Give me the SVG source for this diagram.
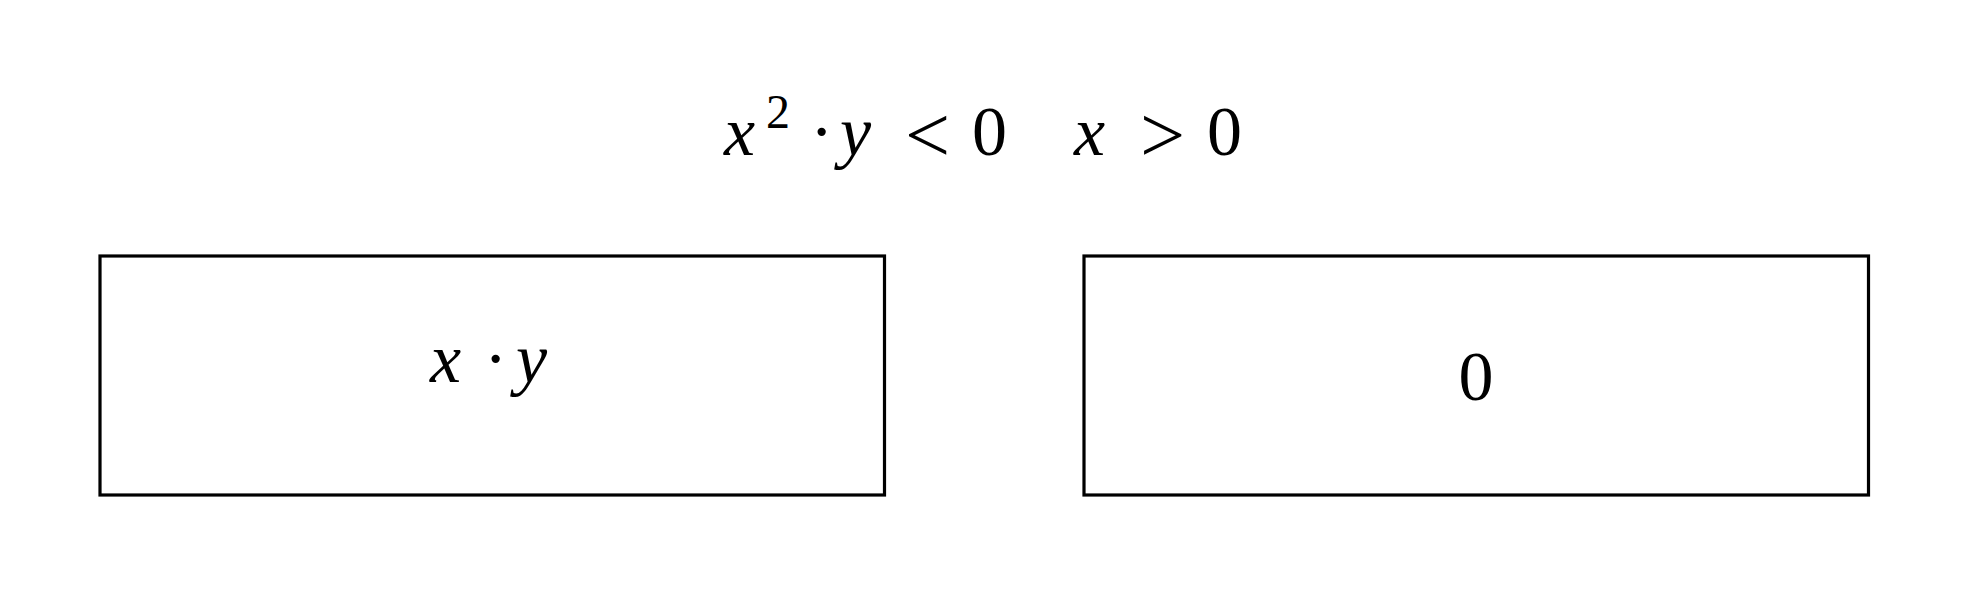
<svg xmlns="http://www.w3.org/2000/svg" width="1969" height="597" viewBox="0 0 1969 597">
<style>
.box{fill:#fff;stroke:#000;stroke-width:3.2}
.m{font-family:"Liberation Serif","Times New Roman",serif;font-size:70px;fill:#000}
.i{font-style:italic}
.s{font-size:48px}
.r{font-size:80px}
</style>
<rect width="1969" height="597" fill="#fff"/>
<g id="condition">
<text class="m" y="155"><tspan class="i" x="724">x</tspan><tspan class="s" x="766" y="128">2</tspan><tspan x="810" y="155">·</tspan><tspan class="i" x="840">y</tspan><tspan class="r" x="905" y="162">&lt;</tspan><tspan x="972" y="155">0</tspan><tspan class="i" x="1074">x</tspan><tspan class="r" x="1140" y="162">&gt;</tspan><tspan x="1207" y="155">0</tspan></text>
</g>
<g id="left-node">
<rect class="box" x="100" y="256" width="784.5" height="239"/>
<text class="m" y="382"><tspan class="i" x="430">x</tspan><tspan x="484">·</tspan><tspan class="i" x="516">y</tspan></text>
</g>
<g id="right-node">
<rect class="box" x="1084" y="256" width="784.5" height="239"/>
<text class="m" x="1476" y="400" text-anchor="middle">0</text>
</g>
<g id="connectors"/>
</svg>
